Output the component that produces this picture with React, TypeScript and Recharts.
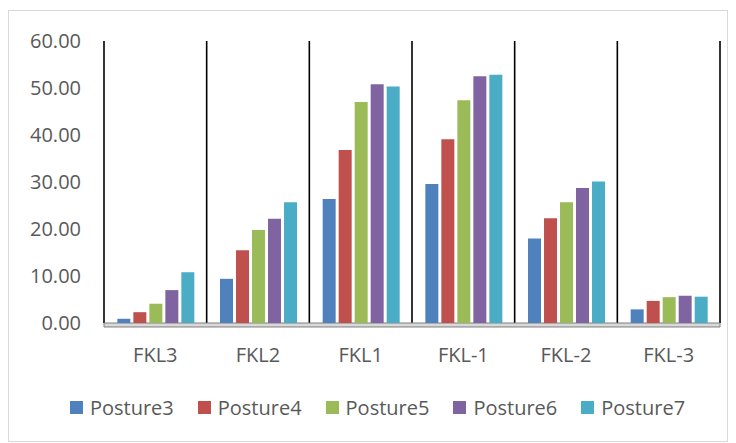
import React from "react";
import { BarChart, Bar, XAxis, YAxis, CartesianGrid, Legend, ReferenceArea } from "recharts";

const categories = ["FKL3", "FKL2", "FKL1", "FKL-1", "FKL-2", "FKL-3"];
const posture3 = [0.9, 9.4, 26.4, 29.6, 18.0, 2.9];
const posture4 = [2.3, 15.5, 36.8, 39.1, 22.3, 4.7];
const posture5 = [4.1, 19.8, 47.0, 47.4, 25.7, 5.5];
const posture6 = [7.0, 22.2, 50.8, 52.5, 28.7, 5.8];
const posture7 = [10.8, 25.7, 50.3, 52.8, 30.1, 5.6];
const seriesNames = ["Posture3", "Posture4", "Posture5", "Posture6", "Posture7"];
const seriesColors = ["#4F81BD", "#C0504D", "#9BBB59", "#8064A2", "#4BACC6"];
const yTicks = [0, 10, 20, 30, 40, 50, 60];

const seriesValues = [posture3, posture4, posture5, posture6, posture7];
const data = categories.map((c, i) => {
  const row: any = { name: c };
  seriesNames.forEach((s, k) => {
    row[s] = seriesValues[k][i];
  });
  return row;
});

const FONT = "'Open Sans', sans-serif";
const TEXT = "#595959";

const renderLegend = (props: any) => {
  const { payload } = props;
  return (
    <div style={{ display: "flex", justifyContent: "center", paddingLeft: 26, fontFamily: FONT, fontSize: 20, color: TEXT, whiteSpace: "nowrap" }}>
      {payload.map((p: any) => (
        <div key={p.value} style={{ display: "flex", alignItems: "center", marginRight: 24 }}>
          <span style={{ display: "inline-block", width: 13, height: 13, background: p.color, marginRight: 7 }} />
          <span>{p.value}</span>
        </div>
      ))}
    </div>
  );
};

export default function App() {
  const W = 720;
  const H = 432;
  return (
    <div style={{ width: W, height: H, marginTop: 2, border: "1px solid #d9d9d9", boxSizing: "border-box", background: "#fff" }}>
      <BarChart
        width={W - 2}
        height={H - 2}
        data={data}
        margin={{ top: 30, right: 7, left: 24, bottom: 45 }}
        barCategoryGap="13%"
        barGap={3}
      >
        <CartesianGrid
          horizontal={false}
          vertical={true}
          stroke="#000"
          strokeWidth={1.6}
          verticalCoordinatesGenerator={({ offset }: any) => {
            const n = categories.length;
            const step = offset.width / n;
            return Array.from({ length: n + 1 }, (_, i) => offset.left + step * i);
          }}
        />
        <ReferenceArea y1={-0.85} y2={0} ifOverflow="visible" fill="#d9d9d9" fillOpacity={1} stroke="#7f7f7f" strokeWidth={1} />
        <XAxis
          dataKey="name"
          axisLine={false}
          tickLine={false}
          tickMargin={19}
          height={46}
          tick={{ fill: TEXT, fontSize: 20, fontFamily: FONT }}
        />
        <YAxis
          domain={[0, 60]}
          ticks={yTicks}
          interval={0}
          axisLine={false}
          tickLine={false}
          width={71}
          tickMargin={17}
          tickFormatter={(v: number) => v.toFixed(2)}
          tick={{ fill: TEXT, fontSize: 20, fontFamily: FONT }}
        />
        {seriesNames.map((s, k) => (
          <Bar key={s} dataKey={s} fill={seriesColors[k]} isAnimationActive={false} />
        ))}
        <Legend
          verticalAlign="bottom"
          content={renderLegend}
          wrapperStyle={{ bottom: 20 }}
        />
      </BarChart>
    </div>
  );
}
